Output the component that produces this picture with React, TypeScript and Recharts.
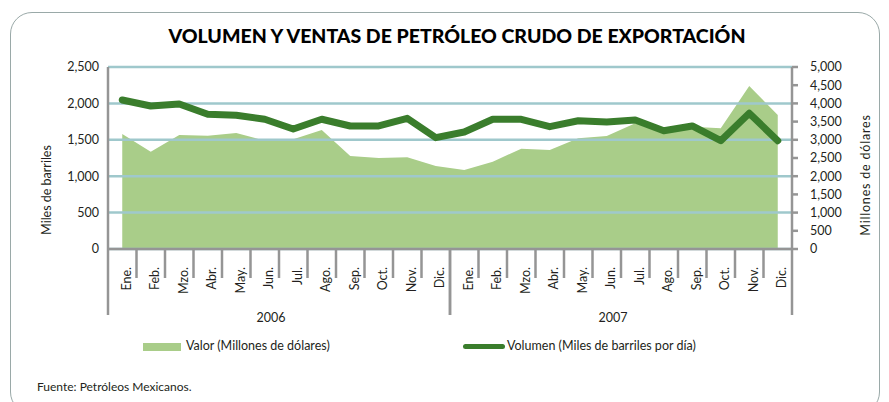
import React from 'react';
import { Area, CartesianGrid, ComposedChart, Line, XAxis, YAxis } from 'recharts';

const meses = ['Ene.', 'Feb.', 'Mzo.', 'Abr.', 'May.', 'Jun.', 'Jul.', 'Ago.', 'Sep.', 'Oct.', 'Nov.', 'Dic.'];
const anios = ['2006', '2007'];

// Miles de barriles por día (eje izquierdo)
const volumen = [
	2047, 1964, 1992, 1850, 1837, 1782, 1648, 1782, 1690, 1690, 1795, 1529,
	1607, 1782, 1782, 1680, 1762, 1744, 1772, 1625, 1690, 1488, 1864, 1488,
];

// Millones de dólares (eje derecho)
const valor = [
	3159, 2673, 3132, 3112, 3187, 2975, 3013, 3269, 2555, 2500, 2519, 2280,
	2170, 2398, 2755, 2720, 3041, 3104, 3453, 3300, 3360, 3316, 4478, 3681,
];

const ticksVolumen = [0, 500, 1000, 1500, 2000, 2500];
const ticksValor = [0, 500, 1000, 1500, 2000, 2500, 3000, 3500, 4000, 4500, 5000];

const data = anios.flatMap((anio, a) =>
	meses.map((mes, m) => ({
		clave: `${anio}-${mes}`,
		mes,
		anio,
		volumen: volumen[a * 12 + m],
		valor: valor[a * 12 + m],
	}))
);

const FONT = 'Lato, "Open Sans", sans-serif';
const GRIS = '#959595';
const TEXTO = '#231f20';

const fmt = (v: number) => v.toLocaleString('en-US');

function MesTick(props: any) {
	const { x, y, payload, index } = props;
	const off = payload.offset || 14.25;
	const fila = data[index];
	const inicioAnio = index % 12 === 0;
	return (
		<g>
			{inicioAnio ? (
				<g>
					<line x1={x - off} x2={x - off} y1={y} y2={y + 66} stroke={GRIS} strokeWidth={2.5} />
					<line x1={x + 23 * off} x2={x + 23 * off} y1={y} y2={y + 66} stroke={GRIS} strokeWidth={2.5} />
					<text x={x + 11 * off - 8} y={y + 73} textAnchor='middle' fontSize={12.5} fontFamily={FONT} fill={TEXTO}>
						{fila.anio}
					</text>
				</g>
			) : (
				<line x1={x - off} x2={x - off} y1={y} y2={y + 29} stroke={GRIS} strokeWidth={2.5} />
			)}
			<text
				x={0}
				y={0}
				transform={`translate(${x + 4},${y + 18}) rotate(-90)`}
				textAnchor='end'
				dominantBaseline='central'
				fontSize={12.5}
				fontFamily={FONT}
				fill={TEXTO}
			>
				{fila.mes}
			</text>
		</g>
	);
}

export default function App() {
	return (
		<div style={{ position: 'absolute', left: 0, top: 0, width: 889, height: 402, overflow: 'hidden', background: '#fff' }}>
			<div
				style={{
					position: 'absolute',
					left: 10,
					top: 12,
					width: 868,
					height: 400,
					border: '1px solid #9aa9a8',
					borderRadius: 22,
				}}
			/>
			<div
				style={{
					position: 'absolute',
					left: 0,
					top: 24,
					width: 914,
					textAlign: 'center',
					fontFamily: FONT,
					fontWeight: 900,
					fontSize: 19.5,
					color: '#000',
				}}
			>
				VOLUMEN Y VENTAS DE PETRÓLEO CRUDO DE EXPORTACIÓN
			</div>
			<div style={{ position: 'absolute', left: 0, top: 0 }}>
				<ComposedChart width={889} height={402} data={data} margin={{ top: 67, right: 0, bottom: 63, left: 0 }}>
					<XAxis
						dataKey='clave'
						scale='band'
						interval={0}
						height={90}
						tickLine={false}
						tickSize={0}
						tickMargin={0}
						axisLine={{ stroke: GRIS, strokeWidth: 2.5 }}
						tick={<MesTick />}
					/>
					<YAxis
						yAxisId='vol'
						domain={[0, 2500]}
						ticks={ticksVolumen}
						interval={0}
						width={108}
						tickLine={false}
						tickSize={0}
						tickMargin={9}
						tickFormatter={fmt}
						axisLine={{ stroke: GRIS, strokeWidth: 2.5 }}
						tick={{ fontSize: 12.5, fontFamily: FONT, fill: TEXTO }}
						label={{
							content: ({ viewBox }: any) => (
								<text
									transform={`translate(${viewBox.x + 46},${viewBox.y + 123}) rotate(-90)`}
									textAnchor='middle'
									dominantBaseline='central'
									fontSize={12.5}
									fontFamily={FONT}
									fill={TEXTO}
								>
									Miles de barriles
								</text>
							),
						}}
					/>
					<YAxis
						yAxisId='val'
						orientation='right'
						domain={[0, 5000]}
						ticks={ticksValor}
						interval={0}
						width={97}
						tickSize={6}
						tickMargin={12}
						tickFormatter={fmt}
						tickLine={{ stroke: GRIS, strokeWidth: 2.5 }}
						axisLine={{ stroke: GRIS, strokeWidth: 2.5 }}
						tick={{ fontSize: 12.5, fontFamily: FONT, fill: TEXTO, textAnchor: 'start' }}
						label={{
							content: ({ viewBox }: any) => (
								<text
									transform={`translate(${viewBox.x + 73},${viewBox.y + 108}) rotate(-90)`}
									textAnchor='middle'
									dominantBaseline='central'
									fontSize={12.5}
									fontFamily={FONT}
									fill={TEXTO}
									letterSpacing={0.8}
								>
									Millones de dólares
								</text>
							),
						}}
					/>
					<Area
						yAxisId='val'
						dataKey='valor'
						type='linear'
						fill='#a9cd89'
						fillOpacity={1}
						stroke='none'
						isAnimationActive={false}
					/>
					<CartesianGrid
						yAxisId='vol'
						vertical={false}
						stroke='#9fc8cc'
						strokeWidth={2.5}
						{...({ zIndex: 200 } as any)}
					/>
					<Line
						yAxisId='vol'
						dataKey='volumen'
						type='linear'
						stroke='#3a7d2c'
						strokeWidth={7}
						strokeLinecap='round'
						strokeLinejoin='round'
						dot={false}
						activeDot={false}
						isAnimationActive={false}
					/>
				</ComposedChart>
			</div>
			<div style={{ position: 'absolute', left: 143, top: 343, width: 38, height: 8, background: '#a9cd89' }} />
			<div style={{ position: 'absolute', left: 186, top: 338, fontFamily: FONT, fontSize: 12.5, color: TEXTO, whiteSpace: 'nowrap' }}>
				Valor (Millones de dólares)
			</div>
			<div style={{ position: 'absolute', left: 463, top: 344, width: 42, height: 5, borderRadius: 3, background: '#3a7d2c' }} />
			<div style={{ position: 'absolute', left: 507, top: 338, fontFamily: FONT, fontSize: 12.5, color: TEXTO, whiteSpace: 'nowrap' }}>
				Volumen (Miles de barriles por día)
			</div>
			<div style={{ position: 'absolute', left: 37, top: 379, fontFamily: FONT, fontSize: 12, color: TEXTO, whiteSpace: 'nowrap' }}>
				Fuente: Petróleos Mexicanos.
			</div>
		</div>
	);
}
